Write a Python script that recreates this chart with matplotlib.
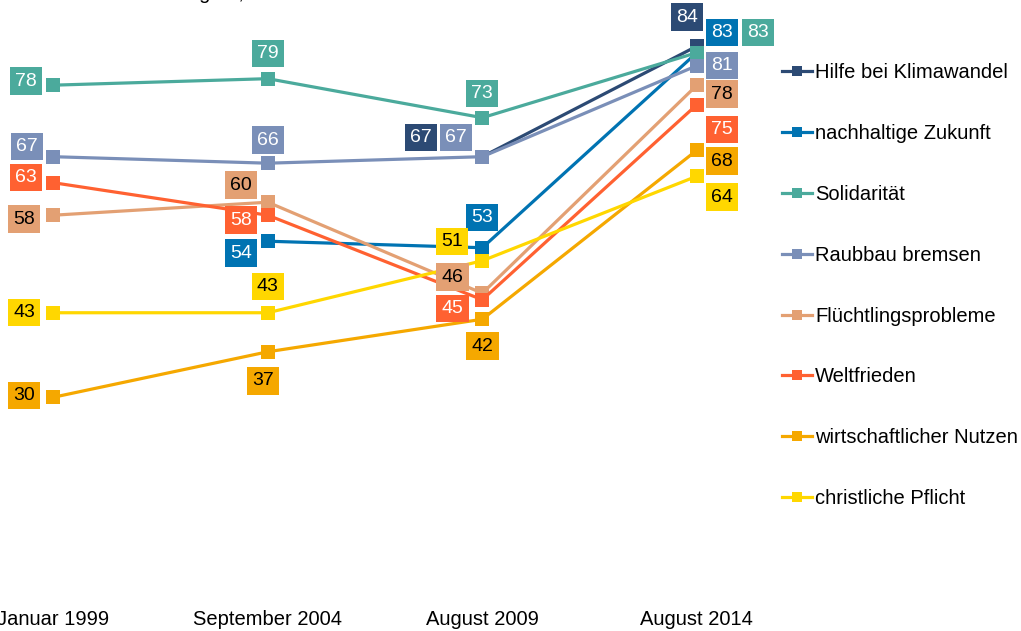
import numpy as np
import matplotlib
matplotlib.use("Agg")
import matplotlib.pyplot as plt

plt.rcParams["font.family"] = ["Liberation Sans", "DejaVu Sans"]

periods = ["Januar 1999", "September 2004", "August 2009", "August 2014"]
series_names = ["Hilfe bei Klimawandel", "nachhaltige Zukunft", "Solidarität",
                "Raubbau bremsen", "Flüchtlingsprobleme", "Weltfrieden",
                "wirtschaftlicher Nutzen", "christliche Pflicht"]
klimawandel = [np.nan, np.nan, 67, 84]
zukunft = [np.nan, 54, 53, 83]
solidaritaet = [78, 79, 73, 83]
raubbau = [67, 66, 67, 81]
fluechtlinge = [58, 60, 46, 78]
weltfrieden = [63, 58, 45, 75]
nutzen = [30, 37, 42, 68]
pflicht = [43, 43, 51, 64]
all_values = [klimawandel, zukunft, solidaritaet, raubbau, fluechtlinge,
              weltfrieden, nutzen, pflicht]

colors = ["#2C4A74", "#0073B2", "#4BAA9C", "#7A8FB8", "#E3A073", "#FF6131",
          "#F5A800", "#FFD700"]
text_colors = ["white", "white", "white", "white", "black", "white", "black", "black"]

# label offsets in pixels (dx, dy), dy positive = downwards
offsets = [
    [None, None, (-61, -19), (-10, -29)],
    [None, (-27, 12), (0, -30), (25, -20)],
    [(-27, -4), (0, -25), (0, -24), (61, -20)],
    [(-26, -10), (0, -23), (-26, -19), (25, 0)],
    [(-29, 4), (-27, -17), (-30, -16), (25, 9)],
    [(-27, -5), (-27, 5), (-30, 9), (25, 25)],
    [(-29, -2), (-5, 29), (0, 27), (25, 11)],
    [(-29, 0), (0, -26), (-30, -19), (25, 21)],
]

fig = plt.figure(figsize=(10.21, 6.31), dpi=100)
ax = fig.add_axes([0, 1 - 600 / 631, 1, 600 / 631])
x = np.arange(len(periods))

for name, vals, col in zip(series_names, all_values, colors):
    ax.plot(x, vals, color=col, lw=2.3, marker="s", markersize=9.5,
            markeredgewidth=0, label=name, zorder=2)

for vals, col, tcol, offs in zip(all_values, colors, text_colors, offsets):
    for i, v in enumerate(vals):
        if offs[i] is None or np.isnan(v):
            continue
        dx, dy = offs[i]
        ax.annotate(f"{v:.0f}", (x[i], v), xytext=(dx * 0.72, -dy * 0.72),
                    textcoords="offset points", ha="center", va="center",
                    fontsize=14, color=tcol, zorder=5,
                    bbox=dict(boxstyle="square,pad=0.27", fc=col, ec="none"))

ax.set_xlim(-0.2485, 4.511)
ax.set_ylim(-1.18, 91.1)
ax.set_xticks(x)
ax.set_xticklabels(periods, fontsize=14.5)
ax.tick_params(axis="x", length=0, pad=7)
ax.set_yticks([])
for s in ax.spines.values():
    s.set_visible(False)

ax.legend(loc="upper left", bbox_to_anchor=(782 / 1021, 1 - 63 / 631),
          bbox_transform=fig.transFigure, frameon=False, fontsize=14.5,
          handlelength=1.5, handletextpad=0.15, labelspacing=2.08,
          borderpad=0, borderaxespad=0, markerscale=0.8)

fig.text(60 / 1021, 1 + 1 / 631, "Anteil der Befragten, in %", fontsize=14.5,
         ha="left", va="baseline")

fig.savefig("out.png", dpi=100)
